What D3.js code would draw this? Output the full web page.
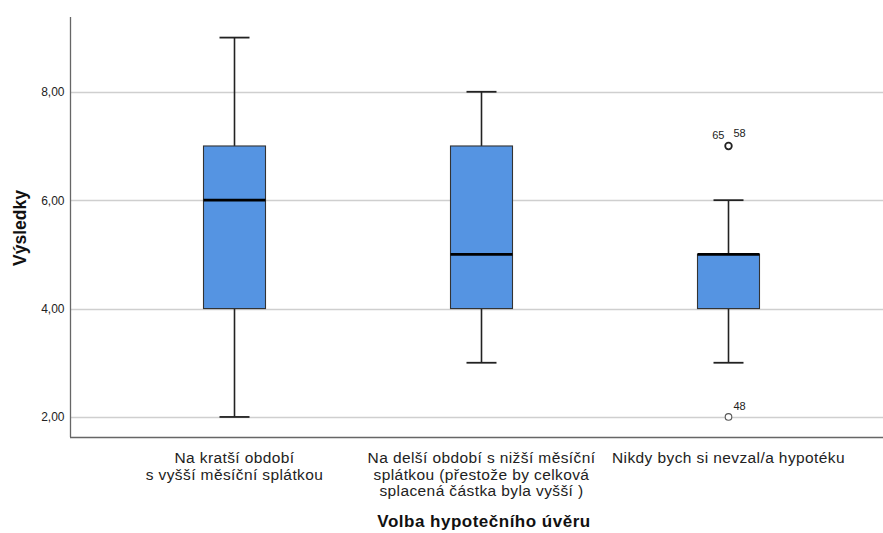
<!DOCTYPE html>
<html><head><meta charset="utf-8">
<script src="https://cdn.jsdelivr.net/npm/d3@7"></script>
<style>body{margin:0;background:#fff}svg{display:block}text{font-family:"Liberation Sans",Arial,sans-serif}</style>
</head><body><svg id="c" width="883" height="533"></svg>
<script>
const categories = [
  ["Na kratší období", "s vyšší měsíční splátkou"],
  ["Na delší období s nižší měsíční", "splátkou (přestože by celková", "splacená částka byla vyšší )"],
  ["Nikdy bych si nevzal/a hypotéku"]
];
const whiskerLow = [2, 3, 3];
const q1 = [4, 4, 4];
const median = [6, 5, 5];
const q3 = [7, 7, 5];
const whiskerHigh = [9, 8, 6];
const outliers = [[], [], [{v:7, labels:["65","58"]}, {v:2, labels:["48"]}]];
const yTicks = [2, 4, 6, 8];
const yTitle = "Výsledky";
const xTitle = "Volba hypotečního úvěru";

const svg = d3.select("#c");
const y = d3.scaleLinear().domain([1.63, 9.38]).range([437, 17]);
const x = d3.scaleBand().domain(d3.range(categories.length)).range([111, 852]).padding(0);
const fmt = d => d.toFixed(2).replace(".", ",");

// gridlines
svg.append("g").selectAll("line").data(yTicks).join("line")
  .attr("x1", 70).attr("x2", 883).attr("y1", d => Math.round(y(d)) + 0.5).attr("y2", d => Math.round(y(d)) + 0.5)
  .attr("stroke", "#cfcfcf").attr("stroke-width", 1.3);

// y axis
const yAxis = svg.append("g").attr("transform", "translate(70.5,0)")
  .call(d3.axisLeft(y).tickValues(yTicks).tickFormat(fmt).tickSize(0).tickPadding(6));
yAxis.select(".domain").remove();
yAxis.selectAll("text").attr("font-size", 12).attr("fill", "#222");
svg.append("line").attr("x1", 70.5).attr("x2", 70.5).attr("y1", 17).attr("y2", 437).attr("stroke", "#666").attr("stroke-width", 1.3);
svg.append("line").attr("x1", 70).attr("x2", 883).attr("y1", 437.5).attr("y2", 437.5).attr("stroke", "#666").attr("stroke-width", 1.3);

// boxes
const bw = 62, cw = 30;
const g = svg.append("g");
categories.forEach((c, i) => {
  const cx = x(i) + x.bandwidth() / 2;
  g.append("line").attr("x1", cx).attr("x2", cx).attr("y1", y(whiskerHigh[i])).attr("y2", y(q3[i])).attr("stroke", "#222").attr("stroke-width", 1.6);
  g.append("line").attr("x1", cx).attr("x2", cx).attr("y1", y(q1[i])).attr("y2", y(whiskerLow[i])).attr("stroke", "#222").attr("stroke-width", 1.6);
  g.append("line").attr("x1", cx - cw/2).attr("x2", cx + cw/2).attr("y1", y(whiskerHigh[i])).attr("y2", y(whiskerHigh[i])).attr("stroke", "#222").attr("stroke-width", 1.8);
  g.append("line").attr("x1", cx - cw/2).attr("x2", cx + cw/2).attr("y1", y(whiskerLow[i])).attr("y2", y(whiskerLow[i])).attr("stroke", "#222").attr("stroke-width", 1.8);
  g.append("rect").attr("x", cx - bw/2).attr("y", y(q3[i])).attr("width", bw).attr("height", y(q1[i]) - y(q3[i]))
    .attr("fill", "#5594e2").attr("stroke", "#333").attr("stroke-width", 1.1);
  g.append("line").attr("x1", cx - bw/2).attr("x2", cx + bw/2).attr("y1", y(median[i])).attr("y2", y(median[i])).attr("stroke", "#000").attr("stroke-width", 2.6);
  outliers[i].forEach(o => {
    const heavy = o.labels.length > 1;
    g.append("circle").attr("cx", cx).attr("cy", y(o.v)).attr("r", 3.3).attr("fill", "#fff")
      .attr("stroke", heavy ? "#222" : "#555").attr("stroke-width", heavy ? 1.8 : 1.1);
    if (o.labels.length === 2) {
      g.append("text").attr("x", cx - 4).attr("y", y(o.v) - 7).attr("text-anchor", "end").attr("font-size", 11).attr("fill", "#222").text(o.labels[0]);
      g.append("text").attr("x", cx + 5).attr("y", y(o.v) - 9).attr("font-size", 11).attr("fill", "#222").text(o.labels[1]);
    } else {
      g.append("text").attr("x", cx + 5).attr("y", y(o.v) - 7).attr("font-size", 11).attr("fill", "#222").text(o.labels[0]);
    }
  });
  const t = svg.append("text").attr("text-anchor", "middle").attr("font-size", 15.5).attr("letter-spacing", 0.4).attr("fill", "#222");
  c.forEach((line, k) => t.append("tspan").attr("x", cx).attr("y", 463 + k * 16.5).text(line));
});

svg.append("text").attr("x", 484).attr("y", 527).attr("text-anchor", "middle").attr("font-size", 17).attr("letter-spacing", 0.5).attr("font-weight", "bold").attr("fill", "#111").text(xTitle);
svg.append("text").attr("transform", "translate(26,228) rotate(-90)").attr("text-anchor", "middle").attr("font-size", 17.5).attr("font-weight", "bold").attr("fill", "#111").text(yTitle);
</script></body></html>
